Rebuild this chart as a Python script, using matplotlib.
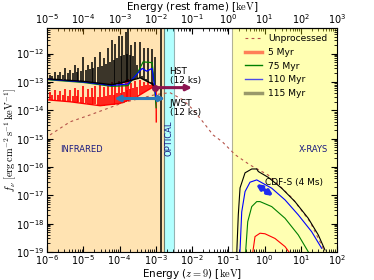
import numpy as np
import matplotlib
matplotlib.use("Agg")
import matplotlib.pyplot as plt
from matplotlib.lines import Line2D
from matplotlib.ticker import LogLocator, NullFormatter

plt.rcParams['mathtext.fontset'] = 'cm'
plt.rcParams['font.size'] = 7

# ====== Data (observed-frame energy in keV, flux in erg cm^-2 s^-1 keV^-1) ======
# unprocessed source spectrum
unp_E = [1.2e-6, 4.27e-6, 1.55e-5, 1.26e-4, 9.55e-4, 2.45e-3, 5.6e-3, 0.0107, 0.020,
         0.038, 0.068, 0.155, 0.40, 1.26, 5.75, 18.2, 46.8]
unp_f = [1.35e-15, 3.9e-15, 6.9e-15, 1.86e-14, 3.55e-14, 4.2e-14, 2.34e-14, 1.05e-14, 3.9e-15,
         1.35e-15, 7.8e-16, 2.7e-16, 1.17e-16, 5.2e-17, 8.1e-18, 1.15e-18, 1.0e-19]

# infrared continua
red_ir_E = [1e-6, 4.31e-6, 2.9e-5, 1.03e-4, 2.68e-4, 5.05e-4, 7.89e-4, 1.02e-3, 1.03e-3]
red_ir_f = [2.34e-14, 2.0e-14, 1.45e-14, 1.75e-14, 2.75e-14, 4.5e-14, 6.3e-14, 6.3e-14, 3.9e-15]
grn_ir_E = [1e-6, 1e-5, 6e-5, 1.7e-4, 3.24e-4, 4.47e-4, 7.9e-4, 8.9e-4, 1.02e-3]
grn_ir_f = [1.2e-13, 9.6e-14, 7.0e-14, 7.4e-14, 2.3e-13, 5.1e-13, 4.8e-13, 1.2e-13, 1.23e-14]
blu_ir_E = [1e-6, 1e-5, 6e-5, 1.7e-4, 3.24e-4, 4.2e-4, 5.6e-4, 7.9e-4, 8.9e-4, 1.02e-3]
blu_ir_f = [1.25e-13, 1.0e-13, 7.5e-14, 8.5e-14, 2.1e-13, 3.0e-13, 2.4e-13, 3.0e-13, 1.0e-13, 2.3e-14]
blk_ir_E = [1e-6, 1e-5, 6e-5, 1.7e-4, 3.7e-4, 7.9e-4, 1.02e-3]
blk_ir_f = [1.29e-13, 1.05e-13, 8.0e-14, 1.05e-13, 1.4e-13, 8.5e-14, 5.5e-14]

# emission lines (energy, top, bottom)
line_E = [1.21e-6, 1.4e-6, 1.66e-6, 1.95e-6, 2.29e-6, 2.7e-6, 3.14e-6, 3.7e-6, 4.31e-6, 5.1e-6,
          5.92e-6, 6.5e-6, 7.16e-6, 8.4e-6, 9.84e-6, 1.15e-5, 1.35e-5, 1.55e-5, 1.74e-5, 1.9e-5,
          2.11e-5, 2.5e-5, 2.9e-5, 3.3e-5, 3.73e-5, 4.25e-5, 4.82e-5, 5.5e-5, 6.21e-5, 6.8e-5,
          7.52e-5, 8.5e-5, 9.68e-5, 1.06e-4, 1.17e-4, 1.32e-4, 1.51e-4, 1.61e-4, 1.71e-4, 1.88e-4,
          2.07e-4, 2.35e-4, 2.68e-4, 3.1e-4, 3.68e-4, 4.2e-4, 4.74e-4, 5.4e-4, 6.11e-4, 6.9e-4,
          7.89e-4, 8.6e-4, 9.53e-4]
blk_top = [1.8e-13, 1.6e-13, 2.3e-13, 1.7e-13, 2.3e-13, 1.8e-13, 3.2e-13, 2.0e-13, 2.7e-13, 2.1e-13,
           4.1e-13, 2.2e-13, 3.2e-13, 2.4e-13, 7.8e-13, 2.6e-13, 4.1e-13, 2.8e-13, 5.1e-13, 3.0e-13,
           7.8e-13, 3.5e-13, 1.17e-12, 3.8e-13, 7.2e-13, 4.2e-13, 1.6e-12, 5.0e-13, 3.1e-12, 6.0e-13,
           2.2e-12, 7.0e-13, 4.3e-12, 8.0e-13, 4.3e-12, 9.0e-13, 5.9e-12, 1.0e-12, 7.6e-12, 9.0e-13,
           2.0e-12, 8.0e-13, 2.5e-12, 4.0e-13, 2.6e-12, 1.6e-13, 1.6e-12, 1.3e-13, 1.6e-12, 1.0e-13,
           1.4e-12, 9.0e-14, 7.8e-13]
blk_bot = [1.28e-13, 1.27e-13, 1.26e-13, 1.25e-13, 1.24e-13, 1.23e-13, 1.2e-13, 1.18e-13, 1.16e-13, 1.14e-13,
           1.12e-13, 1.11e-13, 1.1e-13, 1.07e-13, 1.05e-13, 1.02e-13, 1.0e-13, 9.8e-14, 9.6e-14, 9.4e-14,
           9.2e-14, 9.0e-14, 8.8e-14, 8.6e-14, 8.5e-14, 8.3e-14, 8.2e-14, 8.0e-14, 8.0e-14, 8.0e-14,
           8.0e-14, 8.2e-14, 8.5e-14, 8.7e-14, 9.0e-14, 9.3e-14, 9.6e-14, 1.0e-13, 1.05e-13, 1.1e-13,
           1.15e-13, 1.2e-13, 1.3e-13, 1.35e-13, 1.4e-13, 1.3e-13, 1.2e-13, 1.1e-13, 1.0e-13, 9.0e-14,
           8.5e-14, 8.0e-14, 7.0e-14]
red_top = [4.5e-14, 3.5e-14, 5.0e-14, 3.5e-14, 4.8e-14, 3.4e-14, 5.5e-14, 3.3e-14, 5.0e-14, 3.2e-14,
           6.0e-14, 3.2e-14, 5.0e-14, 3.0e-14, 7.0e-14, 3.0e-14, 5.5e-14, 3.0e-14, 6.0e-14, 3.0e-14,
           7.0e-14, 3.0e-14, 8.0e-14, 3.0e-14, 6.5e-14, 3.2e-14, 8.5e-14, 3.4e-14, 1.0e-13, 3.6e-14,
           8.0e-14, 4.0e-14, 1.1e-13, 4.2e-14, 1.0e-13, 4.5e-14, 1.2e-13, 5.0e-14, 1.3e-13, 5.5e-14,
           9.0e-14, 6.0e-14, 1.1e-13, 6.5e-14, 1.2e-13, 7.0e-14, 1.0e-13, 7.5e-14, 1.1e-13, 8.0e-14,
           1.0e-13, 8.0e-14, 8.0e-14]
red_bot = [2.3e-14, 2.3e-14, 2.25e-14, 2.2e-14, 2.2e-14, 2.15e-14, 2.1e-14, 2.05e-14, 2.0e-14, 1.98e-14,
           1.95e-14, 1.92e-14, 1.9e-14, 1.85e-14, 1.8e-14, 1.75e-14, 1.7e-14, 1.68e-14, 1.65e-14, 1.62e-14,
           1.6e-14, 1.5e-14, 1.45e-14, 1.45e-14, 1.45e-14, 1.48e-14, 1.5e-14, 1.52e-14, 1.55e-14, 1.58e-14,
           1.6e-14, 1.65e-14, 1.7e-14, 1.75e-14, 1.8e-14, 1.9e-14, 2.0e-14, 2.1e-14, 2.2e-14, 2.3e-14,
           2.4e-14, 2.6e-14, 2.75e-14, 3.1e-14, 3.5e-14, 3.9e-14, 4.3e-14, 4.6e-14, 5.0e-14, 5.6e-14,
           6.3e-14, 6.3e-14, 6.3e-14]

# X-ray spectra
red_x_E = [0.44, 0.547, 0.752, 1.03, 1.95, 3.68, 5.05]
red_x_f = [5e-20, 3.5e-19, 4.6e-19, 4.4e-19, 3.0e-19, 1.55e-19, 9e-20]
grn_x_E = [0.29, 0.344, 0.444, 0.61, 0.752, 1.58, 3.68, 8.55, 16.1]
grn_x_f = [5e-20, 1.17e-18, 4.0e-18, 6.0e-18, 6.0e-18, 4.0e-18, 1.55e-18, 4.0e-19, 1.02e-19]
blu_x_E = [0.205, 0.235, 0.29, 0.398, 0.61, 1.58, 3.68, 8.55, 20.0, 37.8]
blu_x_f = [5e-20, 2.6e-18, 1.35e-17, 2.9e-17, 3.5e-17, 1.78e-17, 6.9e-18, 2.04e-18, 5.2e-19, 1.35e-19]
blk_x_E = [0.168, 0.189, 0.211, 0.29, 0.444, 0.61, 0.675, 1.27, 2.98, 6.93, 16.1, 30.5, 46.7]
blk_x_f = [5e-20, 2.04e-18, 1.82e-17, 6.2e-17, 8.5e-17, 8.5e-17, 6.9e-17, 4.3e-17, 1.78e-17,
           6.0e-18, 1.55e-18, 4.0e-19, 1.17e-19]

# bands and survey ranges
ir_band = (1e-7, 1.65e-3)
opt_band = (1.65e-3, 3.1e-3)
xray_band = (0.124, 1e3)
lyman_edge = 1.36e-3
hst_range = (9.5e-4, 1.0e-2)
hst_flux = 6.3e-14
jwst_range = (7.2e-5, 1.8e-3)
jwst_flux = 2.6e-14
cdfs_E = (0.58, 1.75)
cdfs_f = (2.5e-17, 9.5e-18)

# ====== Draw ======
fig = plt.figure(figsize=(3.74, 2.8), dpi=100)
ax = fig.add_axes([0.126, 0.1, 0.775, 0.8])
ax.set_xscale('log')
ax.set_yscale('log')

ax.axvspan(*ir_band, facecolor='orange', alpha=0.3, edgecolor='k', lw=0.8)
ax.axvspan(*opt_band, facecolor='cyan', alpha=0.3, edgecolor='k', lw=0.8)
ax.axvspan(*xray_band, facecolor='yellow', alpha=0.3, edgecolor='k', lw=0.8)

ax.plot(unp_E, unp_f, ls=(0, (2.5, 3)), color='#b5534a', lw=0.8)

ax.vlines(line_E, red_bot, red_top, color='red', lw=1.2)
ax.plot(red_ir_E, red_ir_f, color='red', lw=1.0)
ax.vlines(line_E, blk_bot, blk_top, color='black', lw=1.1)
ax.plot(grn_ir_E, grn_ir_f, color='green', lw=0.9)
ax.plot(blu_ir_E, blu_ir_f, color='blue', lw=0.9)
ax.plot(blk_ir_E, blk_ir_f, color='black', lw=1.0)
ax.axvline(lyman_edge, color='black', lw=1.1)

ax.plot(red_x_E, red_x_f, color='red', lw=0.8)
ax.plot(grn_x_E, grn_x_f, color='green', lw=0.8)
ax.plot(blu_x_E, blu_x_f, color='blue', lw=0.8)
ax.plot(blk_x_E, blk_x_f, color='black', lw=0.8)

# instruments
ax.annotate('', xy=(hst_range[1], hst_flux), xytext=(hst_range[0], hst_flux),
            arrowprops=dict(arrowstyle='-|>', color='#8c1450', lw=2.2, mutation_scale=8,
                            shrinkA=0, shrinkB=0))
ax.plot([hst_range[0]], [hst_flux], 'o', color='#8c1450', ms=4)
ax.annotate('', xy=(jwst_range[1], jwst_flux), xytext=(jwst_range[0], jwst_flux),
            arrowprops=dict(arrowstyle='<|-|>', color='#2b7bba', lw=2.2, mutation_scale=8,
                            shrinkA=0, shrinkB=0))
ax.annotate('', xy=(cdfs_E[1], cdfs_f[1]), xytext=(cdfs_E[0], cdfs_f[0]),
            arrowprops=dict(arrowstyle='<|-|>', color='#1f2cf0', lw=2.6, mutation_scale=7,
                            shrinkA=0, shrinkB=0))

ax.text(2.4e-3, 1.6e-13, 'HST\n(12 ks)', fontsize=6.5, va='center', ha='left', linespacing=1.0)
ax.text(2.4e-3, 1.25e-14, 'JWST\n(12 ks)', fontsize=6.5, va='center', ha='left', linespacing=1.0)
ax.text(1.0, 2.75e-17, 'CDF-S (4 Ms)', fontsize=6.5, va='center', ha='left')
ax.text(2.3e-6, 4e-16, 'INFRARED', fontsize=6, color='#1a1a80', va='center')
ax.text(55, 4e-16, 'X-RAYS', fontsize=6, color='#1a1a80', va='center', ha='right')
ax.text(2.3e-3, 1.0e-15, 'OPTICAL', fontsize=6, color='#1a1a80', va='center', ha='center',
        rotation=90)

ax.set_xlim(1e-6, 1e2)
ax.set_ylim(1e-19, 8e-12)
ax.set_xlabel(r'Energy ($z=9$) [$\mathrm{keV}$]', fontsize=7.5, labelpad=0)
ax.set_ylabel(r'$f_\nu\ [\mathrm{erg\,cm^{-2}\,s^{-1}\,keV^{-1}}]$', fontsize=7.5)
ax.yaxis.set_label_coords(-0.098, 0.5)

ax.xaxis.set_major_locator(LogLocator(base=10, numticks=20))
ax.xaxis.set_minor_locator(LogLocator(base=10, subs=np.arange(2, 10), numticks=200))
ax.xaxis.set_minor_formatter(NullFormatter())
ax.yaxis.set_major_locator(LogLocator(base=10, numticks=20))
ax.yaxis.set_minor_locator(LogLocator(base=10, subs=np.arange(2, 10), numticks=200))
ax.yaxis.set_minor_formatter(NullFormatter())
ax.tick_params(which='both', direction='in', labelsize=7, right=True)
ax.tick_params(axis='x', pad=1)
ax.tick_params(axis='y', pad=2)
ax.tick_params(which='major', length=4)
ax.tick_params(which='minor', length=2)

top = ax.secondary_xaxis('top', functions=(lambda x: x * 10, lambda x: x / 10))
top.xaxis.set_major_locator(LogLocator(base=10, numticks=20))
top.xaxis.set_minor_locator(LogLocator(base=10, subs=np.arange(2, 10), numticks=200))
top.xaxis.set_minor_formatter(NullFormatter())
top.tick_params(which='both', direction='in', labelsize=7, pad=1.5)
top.tick_params(which='major', length=4)
top.tick_params(which='minor', length=2)
top.set_xlabel(r'Energy (rest frame) [$\mathrm{keV}$]', fontsize=7.5, labelpad=1.5)

handles = [
    Line2D([], [], ls=(0, (2.5, 3)), color='#b5534a', lw=0.8),
    Line2D([], [], color='red', lw=2.5, alpha=0.5),
    Line2D([], [], color='green', lw=1),
    Line2D([], [], color='blue', lw=1, alpha=0.7),
    Line2D([], [], color='black', lw=2.5, alpha=0.4),
]
labels = ['Unprocessed', '5 Myr', '75 Myr', '110 Myr', '115 Myr']
ax.legend(handles, labels, loc='upper right', frameon=False, fontsize=6.6,
          handlelength=1.8, handletextpad=0.7, labelspacing=0.5, borderaxespad=0.3,
          bbox_to_anchor=(0.99, 1.0))

fig.savefig('out.png', dpi=100)
